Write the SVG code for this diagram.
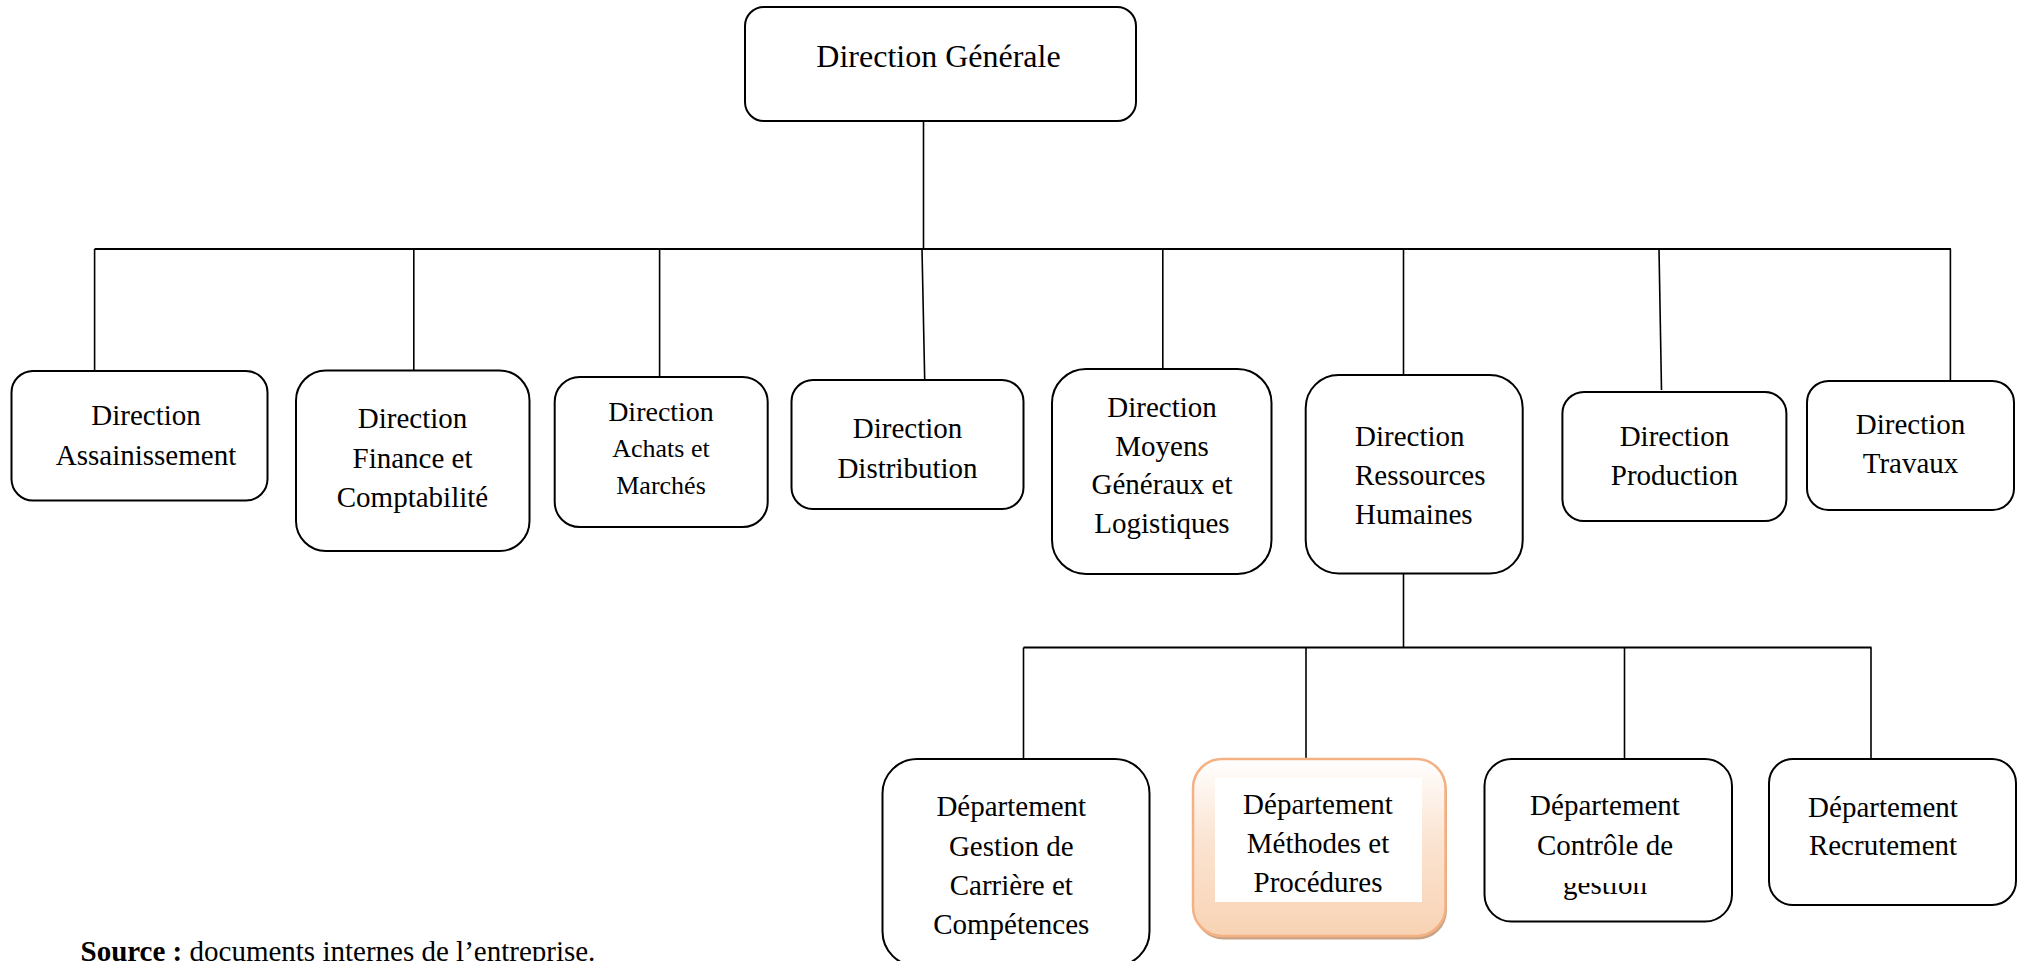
<svg xmlns="http://www.w3.org/2000/svg" width="2018" height="961" viewBox="0 0 2018 961">
  <defs>
    <style>
      .box { fill: #ffffff; stroke: #000000; stroke-width: 2; }
      .lbl { font-family: "Liberation Serif", "Times New Roman", serif; font-size: 29px; fill: #000000; text-anchor: middle; }
      .lbl-left { text-anchor: start; }
      .small { font-size: 26px; }
      .conn line { stroke: #000000; stroke-width: 1.6; fill: none; }
      .conn .bus { stroke-width: 2.2; }
      .src { font-family: "Liberation Serif", "Times New Roman", serif; font-size: 29px; fill: #000000; }
    </style>
    <linearGradient id="peachFill" x1="0" y1="0" x2="0" y2="1">
      <stop offset="0" stop-color="#ffffff"/>
      <stop offset="0.45" stop-color="#fbe4d2"/>
      <stop offset="1" stop-color="#f8d3b4"/>
    </linearGradient>
    <clipPath id="clipGestion">
      <rect x="1484" y="883" width="248" height="40"/>
    </clipPath>
  </defs>

  <rect x="0" y="0" width="2018" height="961" fill="#ffffff"/>

  <!-- connectors -->
  <g id="connectors" class="conn">
    <line x1="923.5" y1="121" x2="923.5" y2="249"/>
    <line class="bus" x1="94.6" y1="249" x2="1951" y2="249"/>
    <line x1="94.6" y1="249" x2="94.6" y2="371"/>
    <line x1="413.8" y1="249" x2="413.8" y2="371"/>
    <line x1="659.6" y1="249" x2="659.6" y2="377"/>
    <line x1="922" y1="249" x2="924.7" y2="380"/>
    <line x1="1162.8" y1="249" x2="1162.8" y2="369"/>
    <line x1="1403.5" y1="249" x2="1403.5" y2="375"/>
    <line x1="1659" y1="249" x2="1661.5" y2="390"/>
    <line x1="1950.4" y1="249" x2="1950.4" y2="381"/>
    <line x1="1403.5" y1="573.5" x2="1403.5" y2="647.5"/>
    <line class="bus" x1="1023.5" y1="647.5" x2="1871.5" y2="647.5"/>
    <line x1="1023.5" y1="647.5" x2="1023.5" y2="759"/>
    <line x1="1306" y1="647.5" x2="1306" y2="759"/>
    <line x1="1624.5" y1="647.5" x2="1624.5" y2="759"/>
    <line x1="1871" y1="647.5" x2="1871" y2="759"/>
  </g>

  <!-- top level -->
  <g id="direction-generale">
    <rect class="box" x="745" y="7" width="391" height="114" rx="19"/>
    <text class="lbl" x="938.5" y="67" style="font-size:32px">Direction Générale</text>
  </g>

  <!-- directions -->
  <g id="direction-assainissement">
    <rect class="box" x="11.5" y="371" width="256" height="129.5" rx="21.5"/>
    <text class="lbl" x="146" y="425">Direction</text>
    <text class="lbl" x="146" y="465">Assainissement</text>
  </g>

  <g id="direction-finance">
    <rect class="box" x="296" y="370.5" width="233.5" height="180.5" rx="30"/>
    <text class="lbl" x="412.5" y="428">Direction</text>
    <text class="lbl" x="412.5" y="467.5">Finance et</text>
    <text class="lbl" x="412.5" y="507">Comptabilité</text>
  </g>

  <g id="direction-achats">
    <rect class="box" x="554.7" y="377" width="213" height="150" rx="25"/>
    <text class="lbl" x="661" y="421" style="font-size:28px">Direction</text>
    <text class="lbl small" x="661" y="457">Achats et</text>
    <text class="lbl small" x="661" y="494">Marchés</text>
  </g>

  <g id="direction-distribution">
    <rect class="box" x="791.5" y="380" width="232" height="129" rx="21.5"/>
    <text class="lbl" x="907.5" y="438">Direction</text>
    <text class="lbl" x="907.5" y="478">Distribution</text>
  </g>

  <g id="direction-moyens">
    <rect class="box" x="1052" y="369" width="219.5" height="205" rx="34"/>
    <text class="lbl" x="1162" y="417">Direction</text>
    <text class="lbl" x="1162" y="455.5">Moyens</text>
    <text class="lbl" x="1162" y="494">Généraux et</text>
    <text class="lbl" x="1162" y="533">Logistiques</text>
  </g>

  <g id="direction-rh">
    <rect class="box" x="1305.7" y="375" width="217" height="198.5" rx="33"/>
    <text class="lbl lbl-left" x="1355" y="446">Direction</text>
    <text class="lbl lbl-left" x="1355" y="485">Ressources</text>
    <text class="lbl lbl-left" x="1355" y="523.5">Humaines</text>
  </g>

  <g id="direction-production">
    <rect class="box" x="1562.4" y="392" width="224" height="129" rx="21.5"/>
    <text class="lbl" x="1674.4" y="446">Direction</text>
    <text class="lbl" x="1674.4" y="485">Production</text>
  </g>

  <g id="direction-travaux">
    <rect class="box" x="1807" y="381" width="207" height="129" rx="21.5"/>
    <text class="lbl" x="1910.5" y="434">Direction</text>
    <text class="lbl" x="1910.5" y="473">Travaux</text>
  </g>

  <!-- departments under human resources -->
  <g id="dept-carriere">
    <rect class="box" x="882.5" y="759" width="267" height="207" rx="34.5"/>
    <text class="lbl" x="1011.3" y="816">Département</text>
    <text class="lbl" x="1011.3" y="856">Gestion de</text>
    <text class="lbl" x="1011.3" y="895">Carrière et</text>
    <text class="lbl" x="1011.3" y="933.5">Compétences</text>
  </g>

  <g id="dept-methodes">
    <rect x="1194.5" y="762.5" width="252.5" height="177" rx="29" fill="#c9a386"/>
    <rect x="1193" y="759" width="252.5" height="177" rx="29" fill="url(#peachFill)" stroke="#f4b183" stroke-width="2.5"/>
    <rect x="1215" y="778" width="207" height="124" fill="#ffffff"/>
    <text class="lbl" x="1318" y="814">Département</text>
    <text class="lbl" x="1318" y="853">Méthodes et</text>
    <text class="lbl" x="1318" y="892">Procédures</text>
  </g>

  <g id="dept-controle">
    <rect class="box" x="1484.5" y="759" width="247.5" height="162.5" rx="27"/>
    <text class="lbl" x="1605" y="815">Département</text>
    <text class="lbl" x="1605" y="855">Contrôle de</text>
    <text class="lbl" x="1605" y="894" clip-path="url(#clipGestion)">gestion</text>
  </g>

  <g id="dept-recrutement">
    <rect class="box" x="1769" y="759" width="247" height="146" rx="24"/>
    <text class="lbl" x="1883" y="817">Département</text>
    <text class="lbl" x="1883" y="855">Recrutement</text>
  </g>

  <!-- source note -->
  <text class="src" x="80.5" y="961"><tspan font-weight="bold">Source :</tspan> documents internes de l’entreprise.</text>
</svg>
